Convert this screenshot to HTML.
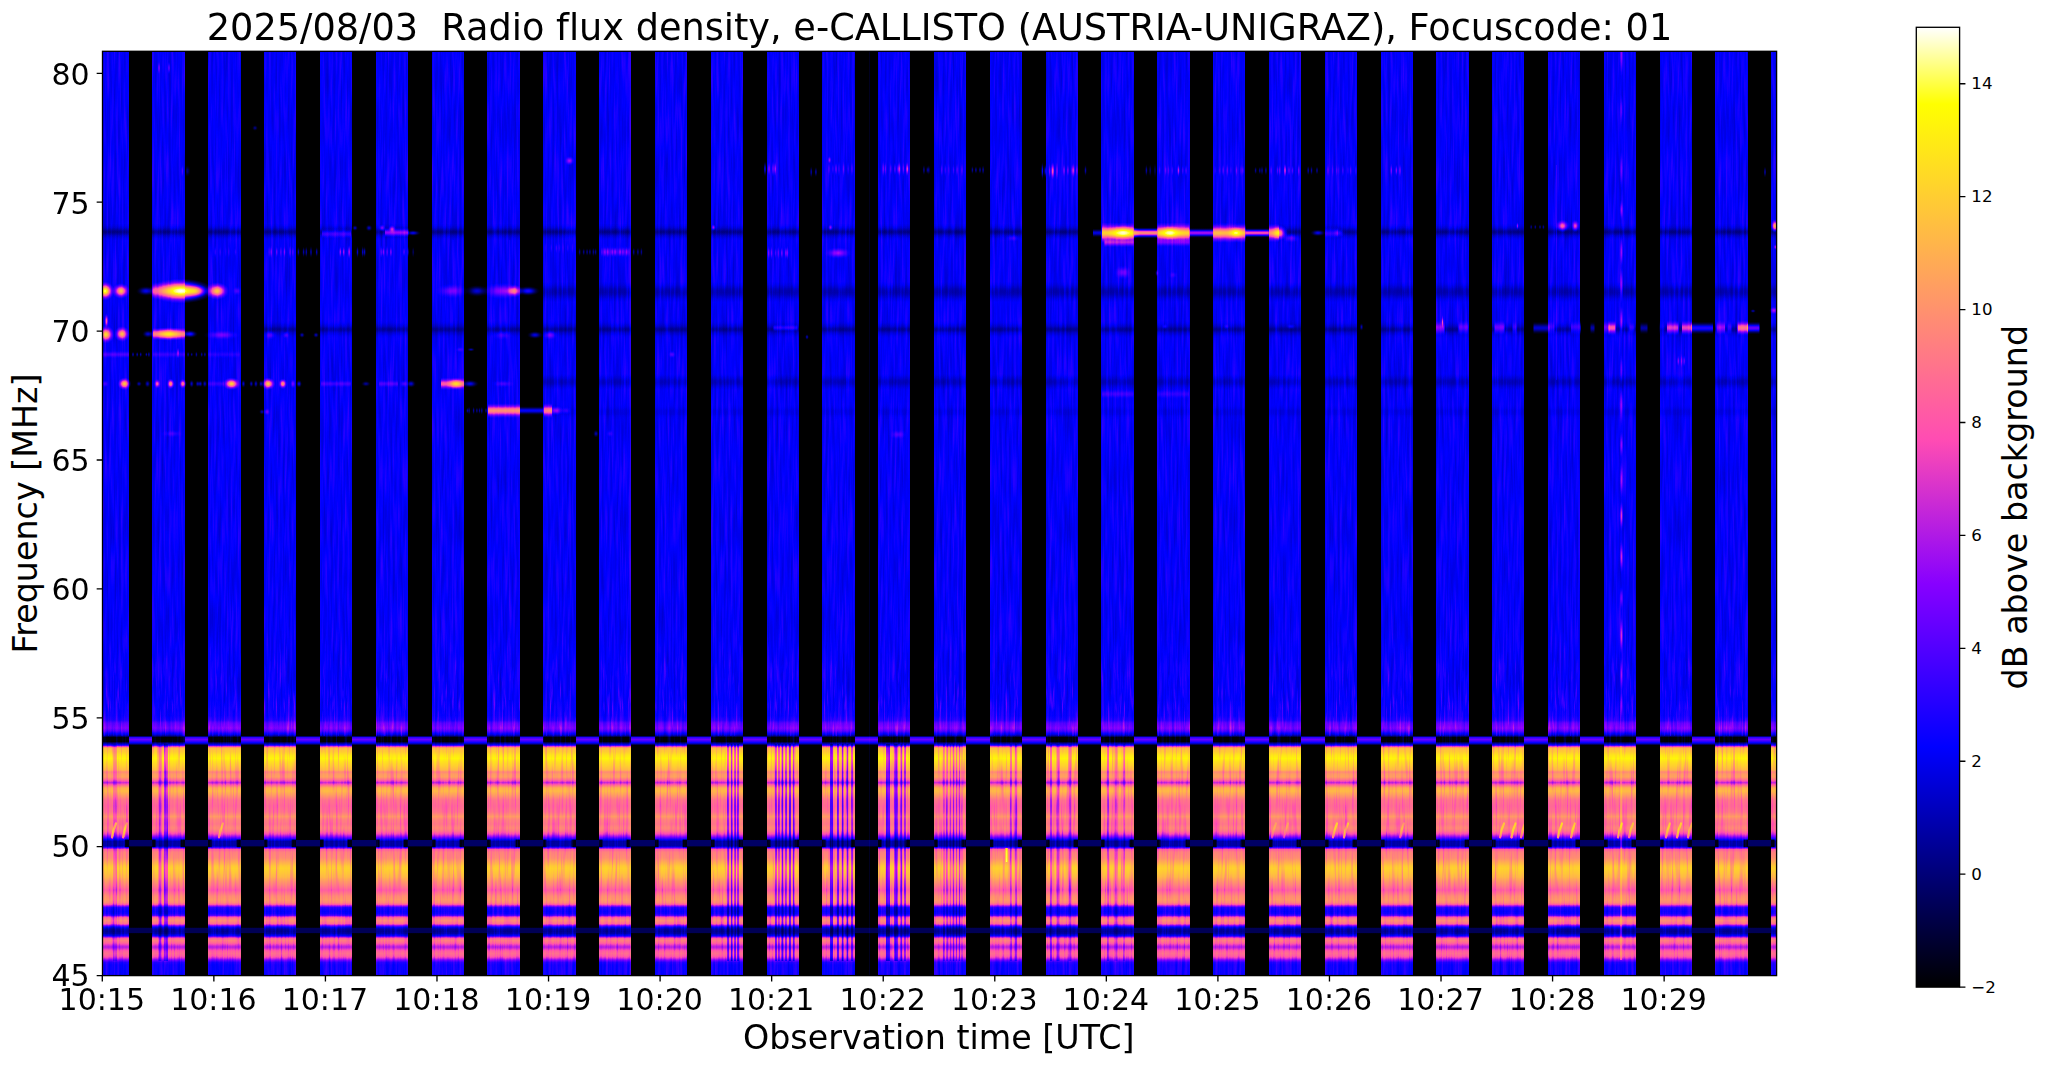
<!DOCTYPE html>
<html lang="en"><head><meta charset="utf-8"><title>e-CALLISTO AUSTRIA-UNIGRAZ 2025/08/03</title>
<style>html,body{margin:0;padding:0;background:#fff}body{width:2047px;height:1067px;overflow:hidden}svg{display:block}text{font-family:"DejaVu Sans","Liberation Sans",sans-serif;fill:#000;font-variant-ligatures:none}</style></head><body>
<svg width="2047" height="1067" viewBox="0 0 2047 1067">
<defs>
<filter id="cmap" filterUnits="userSpaceOnUse" x="100.5" y="49.3" width="1678.1" height="928.3" color-interpolation-filters="sRGB">
<feComponentTransfer>
<feFuncR type="table" tableValues="0 0 0 0 0 0 0 0 0 0 0 0 0 0 0 0 0 0 0 0 0 0 0 0 0 0 0.03125 0.0625 0.09375 0.125 0.1562 0.1875 0.2188 0.25 0.2812 0.3125 0.3438 0.375 0.4062 0.4375 0.4688 0.5 0.5312 0.5625 0.5938 0.625 0.6562 0.6875 0.7188 0.75 0.7812 0.8125 0.8438 0.875 0.9062 0.9375 0.9688 1 1 1 1 1 1 1 1 1 1 1 1 1 1 1 1 1 1 1 1 1 1 1 1 1 1 1 1 1 1 1 1 1 1 1 1 1 1 1 1 1 1 1 1"/>
<feFuncG type="table" tableValues="0 0 0 0 0 0 0 0 0 0 0 0 0 0 0 0 0 0 0 0 0 0 0 0 0 0 0 0 0 0 0 0 0 0 0 0 0 0 0 0 0 0 0 0.02 0.04 0.06 0.08 0.1 0.12 0.14 0.16 0.18 0.2 0.22 0.24 0.26 0.28 0.3 0.32 0.34 0.36 0.38 0.4 0.42 0.44 0.46 0.48 0.5 0.52 0.54 0.56 0.58 0.6 0.62 0.64 0.66 0.68 0.7 0.72 0.74 0.76 0.78 0.8 0.82 0.84 0.86 0.88 0.9 0.92 0.94 0.96 0.98 1 1 1 1 1 1 1 1 1"/>
<feFuncB type="table" tableValues="0 0.04 0.08 0.12 0.16 0.2 0.24 0.28 0.32 0.36 0.4 0.44 0.48 0.52 0.56 0.6 0.64 0.68 0.72 0.76 0.8 0.84 0.88 0.92 0.96 1 1 1 1 1 1 1 1 1 1 1 1 1 1 1 1 1 1 0.98 0.96 0.94 0.92 0.9 0.88 0.86 0.84 0.82 0.8 0.78 0.76 0.74 0.72 0.7 0.68 0.66 0.64 0.62 0.6 0.58 0.56 0.54 0.52 0.5 0.48 0.46 0.44 0.42 0.4 0.38 0.36 0.34 0.32 0.3 0.28 0.26 0.24 0.22 0.2 0.18 0.16 0.14 0.12 0.1 0.08 0.06 0.04 0.02 0 0.125 0.25 0.375 0.5 0.625 0.75 0.875 1"/>
</feComponentTransfer></filter>
<linearGradient id="fg" x1="0" y1="0" x2="0" y2="1"><stop offset="0" stop-color="#000"/><stop offset="0.75" stop-color="#fff"/><stop offset="1" stop-color="#fff"/></linearGradient>
<mask id="fade" maskUnits="userSpaceOnUse" x="102.5" y="620" width="1674.1" height="116"><rect x="102.5" y="620" width="1674.1" height="116" fill="url(#fg)"/></mask>
<filter id="nw" x="0" y="0" width="1" height="1" color-interpolation-filters="sRGB"><feTurbulence type="fractalNoise" baseFrequency="0.42 0.02" numOctaves="2" seed="7"/><feColorMatrix type="matrix" values="0 0 0 0 1  0 0 0 0 1  0 0 0 0 1  0 0 0 0.22 -0.11"/></filter>
<filter id="nk" x="0" y="0" width="1" height="1" color-interpolation-filters="sRGB"><feTurbulence type="fractalNoise" baseFrequency="0.42 0.02" numOctaves="2" seed="7"/><feColorMatrix type="matrix" values="0 0 0 0 0  0 0 0 0 0  0 0 0 0 0  0 0 0 -0.45 0.225"/></filter>
<filter id="nw2" x="0" y="0" width="1" height="1" color-interpolation-filters="sRGB"><feTurbulence type="fractalNoise" baseFrequency="0.5 0.035" numOctaves="2" seed="3"/><feColorMatrix type="matrix" values="0 0 0 0 1  0 0 0 0 1  0 0 0 0 1  0 0 0 0.55 -0.308"/></filter>
<linearGradient id="onp" gradientUnits="userSpaceOnUse" x1="0" y1="51.3" x2="0" y2="975.6"><stop offset="-0.00032" stop-color="#3f3f3f"/><stop offset="0.70183" stop-color="#3f3f3f"/><stop offset="0.71914" stop-color="#444444"/><stop offset="0.72347" stop-color="#4a4a4a"/><stop offset="0.72671" stop-color="#5d5d5d"/><stop offset="0.73212" stop-color="#696969"/><stop offset="0.73537" stop-color="#5a5a5a"/><stop offset="0.73753" stop-color="#454545"/><stop offset="0.73969" stop-color="#343434"/><stop offset="0.74132" stop-color="#161616"/><stop offset="0.74240" stop-color="#000000"/><stop offset="0.74673" stop-color="#000000"/><stop offset="0.74835" stop-color="#1e1e1e"/><stop offset="0.75051" stop-color="#444444"/><stop offset="0.75160" stop-color="#696969"/><stop offset="0.75268" stop-color="#acacac"/><stop offset="0.75430" stop-color="#cacaca"/><stop offset="0.75809" stop-color="#d2d2d2"/><stop offset="0.76133" stop-color="#dedede"/><stop offset="0.76512" stop-color="#e6e6e6"/><stop offset="0.76891" stop-color="#dbdbdb"/><stop offset="0.77323" stop-color="#d2d2d2"/><stop offset="0.77756" stop-color="#c6c6c6"/><stop offset="0.77973" stop-color="#aeaeae"/><stop offset="0.78189" stop-color="#b7b7b7"/><stop offset="0.78513" stop-color="#bababa"/><stop offset="0.78784" stop-color="#a5a5a5"/><stop offset="0.79130" stop-color="#7b7b7b"/><stop offset="0.79433" stop-color="#a5a5a5"/><stop offset="0.79704" stop-color="#c2c2c2"/><stop offset="0.80028" stop-color="#c8c8c8"/><stop offset="0.80461" stop-color="#bababa"/><stop offset="0.81002" stop-color="#a5a5a5"/><stop offset="0.81651" stop-color="#9f9f9f"/><stop offset="0.82300" stop-color="#a5a5a5"/><stop offset="0.82787" stop-color="#b7b7b7"/><stop offset="0.83166" stop-color="#aaaaaa"/><stop offset="0.83598" stop-color="#a5a5a5"/><stop offset="0.84031" stop-color="#aeaeae"/><stop offset="0.84356" stop-color="#a5a5a5"/><stop offset="0.84680" stop-color="#8e8e8e"/><stop offset="0.84951" stop-color="#707070"/><stop offset="0.85167" stop-color="#525252"/><stop offset="0.85351" stop-color="#393939"/><stop offset="0.85492" stop-color="#2a2a2a"/><stop offset="0.85979" stop-color="#2a2a2a"/><stop offset="0.86087" stop-color="#3f3f3f"/><stop offset="0.86227" stop-color="#707070"/><stop offset="0.86357" stop-color="#9b9b9b"/><stop offset="0.86628" stop-color="#ababab"/><stop offset="0.87277" stop-color="#b1b1b1"/><stop offset="0.87710" stop-color="#c0c0c0"/><stop offset="0.88142" stop-color="#cfcfcf"/><stop offset="0.88413" stop-color="#d3d3d3"/><stop offset="0.88792" stop-color="#cfcfcf"/><stop offset="0.89332" stop-color="#c6c6c6"/><stop offset="0.89765" stop-color="#b7b7b7"/><stop offset="0.90306" stop-color="#a8a8a8"/><stop offset="0.90739" stop-color="#999999"/><stop offset="0.91064" stop-color="#a5a5a5"/><stop offset="0.91388" stop-color="#b1b1b1"/><stop offset="0.91821" stop-color="#b7b7b7"/><stop offset="0.92145" stop-color="#aeaeae"/><stop offset="0.92308" stop-color="#969696"/><stop offset="0.92470" stop-color="#707070"/><stop offset="0.92632" stop-color="#4e4e4e"/><stop offset="0.92795" stop-color="#464646"/><stop offset="0.93065" stop-color="#424242"/><stop offset="0.93335" stop-color="#464646"/><stop offset="0.93498" stop-color="#5a5a5a"/><stop offset="0.93606" stop-color="#808080"/><stop offset="0.93747" stop-color="#a2a2a2"/><stop offset="0.94060" stop-color="#b1b1b1"/><stop offset="0.94363" stop-color="#a2a2a2"/><stop offset="0.94504" stop-color="#808080"/><stop offset="0.94634" stop-color="#5a5a5a"/><stop offset="0.94764" stop-color="#3f3f3f"/><stop offset="0.94958" stop-color="#2a2a2a"/><stop offset="0.95196" stop-color="#242424"/><stop offset="0.95445" stop-color="#2a2a2a"/><stop offset="0.95662" stop-color="#3f3f3f"/><stop offset="0.95770" stop-color="#5a5a5a"/><stop offset="0.95878" stop-color="#808080"/><stop offset="0.95997" stop-color="#9e9e9e"/><stop offset="0.96203" stop-color="#aaaaaa"/><stop offset="0.96473" stop-color="#9e9e9e"/><stop offset="0.96689" stop-color="#878787"/><stop offset="0.96906" stop-color="#787878"/><stop offset="0.97122" stop-color="#878787"/><stop offset="0.97339" stop-color="#9b9b9b"/><stop offset="0.97609" stop-color="#a2a2a2"/><stop offset="0.97879" stop-color="#9b9b9b"/><stop offset="0.98096" stop-color="#878787"/><stop offset="0.98258" stop-color="#707070"/><stop offset="0.98420" stop-color="#5a5a5a"/><stop offset="0.98583" stop-color="#4b4b4b"/><stop offset="0.98853" stop-color="#454545"/><stop offset="1.00043" stop-color="#454545"/></linearGradient>
<linearGradient id="offp" gradientUnits="userSpaceOnUse" x1="0" y1="51.3" x2="0" y2="975.6"><stop offset="-0.00032" stop-color="#000000"/><stop offset="0.74024" stop-color="#000000"/><stop offset="0.74132" stop-color="#1e1e1e"/><stop offset="0.74240" stop-color="#4e4e4e"/><stop offset="0.74456" stop-color="#636363"/><stop offset="0.74619" stop-color="#545454"/><stop offset="0.74835" stop-color="#3c3c3c"/><stop offset="0.74976" stop-color="#1e1e1e"/><stop offset="0.75051" stop-color="#000000"/><stop offset="0.85275" stop-color="#000000"/><stop offset="0.85362" stop-color="#191919"/><stop offset="0.85979" stop-color="#191919"/><stop offset="0.86065" stop-color="#000000"/><stop offset="0.94774" stop-color="#000000"/><stop offset="0.94872" stop-color="#151515"/><stop offset="0.95369" stop-color="#151515"/><stop offset="0.95456" stop-color="#000000"/><stop offset="1.00043" stop-color="#000000"/></linearGradient>
<radialGradient id="bw"><stop offset="0.00" stop-color="#fff" stop-opacity="1.000"/><stop offset="0.10" stop-color="#fff" stop-opacity="0.970"/><stop offset="0.20" stop-color="#fff" stop-opacity="0.885"/><stop offset="0.30" stop-color="#fff" stop-opacity="0.758"/><stop offset="0.40" stop-color="#fff" stop-opacity="0.609"/><stop offset="0.50" stop-color="#fff" stop-opacity="0.456"/><stop offset="0.60" stop-color="#fff" stop-opacity="0.316"/><stop offset="0.70" stop-color="#fff" stop-opacity="0.199"/><stop offset="0.80" stop-color="#fff" stop-opacity="0.108"/><stop offset="0.90" stop-color="#fff" stop-opacity="0.043"/><stop offset="1.00" stop-color="#fff" stop-opacity="0.000"/></radialGradient>
<radialGradient id="bk"><stop offset="0.00" stop-color="#000" stop-opacity="1.000"/><stop offset="0.10" stop-color="#000" stop-opacity="0.970"/><stop offset="0.20" stop-color="#000" stop-opacity="0.885"/><stop offset="0.30" stop-color="#000" stop-opacity="0.758"/><stop offset="0.40" stop-color="#000" stop-opacity="0.609"/><stop offset="0.50" stop-color="#000" stop-opacity="0.456"/><stop offset="0.60" stop-color="#000" stop-opacity="0.316"/><stop offset="0.70" stop-color="#000" stop-opacity="0.199"/><stop offset="0.80" stop-color="#000" stop-opacity="0.108"/><stop offset="0.90" stop-color="#000" stop-opacity="0.043"/><stop offset="1.00" stop-color="#000" stop-opacity="0.000"/></radialGradient>
<linearGradient id="lw" x1="0" y1="0" x2="0" y2="1"><stop offset="0.00" stop-color="#fff" stop-opacity="0.000"/><stop offset="0.05" stop-color="#fff" stop-opacity="0.043"/><stop offset="0.10" stop-color="#fff" stop-opacity="0.108"/><stop offset="0.15" stop-color="#fff" stop-opacity="0.199"/><stop offset="0.20" stop-color="#fff" stop-opacity="0.316"/><stop offset="0.25" stop-color="#fff" stop-opacity="0.456"/><stop offset="0.30" stop-color="#fff" stop-opacity="0.609"/><stop offset="0.35" stop-color="#fff" stop-opacity="0.758"/><stop offset="0.40" stop-color="#fff" stop-opacity="0.885"/><stop offset="0.45" stop-color="#fff" stop-opacity="0.970"/><stop offset="0.50" stop-color="#fff" stop-opacity="1.000"/><stop offset="0.55" stop-color="#fff" stop-opacity="0.970"/><stop offset="0.60" stop-color="#fff" stop-opacity="0.885"/><stop offset="0.65" stop-color="#fff" stop-opacity="0.758"/><stop offset="0.70" stop-color="#fff" stop-opacity="0.609"/><stop offset="0.75" stop-color="#fff" stop-opacity="0.456"/><stop offset="0.80" stop-color="#fff" stop-opacity="0.316"/><stop offset="0.85" stop-color="#fff" stop-opacity="0.199"/><stop offset="0.90" stop-color="#fff" stop-opacity="0.108"/><stop offset="0.95" stop-color="#fff" stop-opacity="0.043"/><stop offset="1.00" stop-color="#fff" stop-opacity="0.000"/></linearGradient>
<linearGradient id="lk" x1="0" y1="0" x2="0" y2="1"><stop offset="0.00" stop-color="#000" stop-opacity="0.000"/><stop offset="0.05" stop-color="#000" stop-opacity="0.043"/><stop offset="0.10" stop-color="#000" stop-opacity="0.108"/><stop offset="0.15" stop-color="#000" stop-opacity="0.199"/><stop offset="0.20" stop-color="#000" stop-opacity="0.316"/><stop offset="0.25" stop-color="#000" stop-opacity="0.456"/><stop offset="0.30" stop-color="#000" stop-opacity="0.609"/><stop offset="0.35" stop-color="#000" stop-opacity="0.758"/><stop offset="0.40" stop-color="#000" stop-opacity="0.885"/><stop offset="0.45" stop-color="#000" stop-opacity="0.970"/><stop offset="0.50" stop-color="#000" stop-opacity="1.000"/><stop offset="0.55" stop-color="#000" stop-opacity="0.970"/><stop offset="0.60" stop-color="#000" stop-opacity="0.885"/><stop offset="0.65" stop-color="#000" stop-opacity="0.758"/><stop offset="0.70" stop-color="#000" stop-opacity="0.609"/><stop offset="0.75" stop-color="#000" stop-opacity="0.456"/><stop offset="0.80" stop-color="#000" stop-opacity="0.316"/><stop offset="0.85" stop-color="#000" stop-opacity="0.199"/><stop offset="0.90" stop-color="#000" stop-opacity="0.108"/><stop offset="0.95" stop-color="#000" stop-opacity="0.043"/><stop offset="1.00" stop-color="#000" stop-opacity="0.000"/></linearGradient>
<clipPath id="plot"><rect x="102.5" y="51.3" width="1674.1" height="924.3"/></clipPath>
<clipPath id="offclip"><rect x="129.00" y="51.3" width="23.5" height="924.3"/><rect x="184.82" y="51.3" width="23.5" height="924.3"/><rect x="240.64" y="51.3" width="23.5" height="924.3"/><rect x="296.46" y="51.3" width="23.5" height="924.3"/><rect x="352.28" y="51.3" width="23.5" height="924.3"/><rect x="408.10" y="51.3" width="23.5" height="924.3"/><rect x="463.92" y="51.3" width="23.5" height="924.3"/><rect x="519.74" y="51.3" width="23.5" height="924.3"/><rect x="575.56" y="51.3" width="23.5" height="924.3"/><rect x="631.38" y="51.3" width="23.5" height="924.3"/><rect x="687.20" y="51.3" width="23.5" height="924.3"/><rect x="743.02" y="51.3" width="23.5" height="924.3"/><rect x="798.84" y="51.3" width="23.5" height="924.3"/><rect x="854.66" y="51.3" width="23.5" height="924.3"/><rect x="910.48" y="51.3" width="23.5" height="924.3"/><rect x="966.30" y="51.3" width="23.5" height="924.3"/><rect x="1022.12" y="51.3" width="23.5" height="924.3"/><rect x="1077.94" y="51.3" width="23.5" height="924.3"/><rect x="1133.76" y="51.3" width="23.5" height="924.3"/><rect x="1189.58" y="51.3" width="23.5" height="924.3"/><rect x="1245.40" y="51.3" width="23.5" height="924.3"/><rect x="1301.22" y="51.3" width="23.5" height="924.3"/><rect x="1357.04" y="51.3" width="23.5" height="924.3"/><rect x="1412.86" y="51.3" width="23.5" height="924.3"/><rect x="1468.68" y="51.3" width="23.5" height="924.3"/><rect x="1524.50" y="51.3" width="23.5" height="924.3"/><rect x="1580.32" y="51.3" width="23.5" height="924.3"/><rect x="1636.14" y="51.3" width="23.5" height="924.3"/><rect x="1691.96" y="51.3" width="23.5" height="924.3"/><rect x="1747.78" y="51.3" width="23.5" height="924.3"/></clipPath>
<linearGradient id="cbar" x1="0" y1="0" x2="0" y2="1"><stop offset="0.00" stop-color="rgb(255,255,255)"/><stop offset="0.08" stop-color="rgb(255,255,0)"/><stop offset="0.43" stop-color="rgb(255,76,179)"/><stop offset="0.58" stop-color="rgb(135,0,255)"/><stop offset="0.75" stop-color="rgb(0,0,255)"/><stop offset="1.00" stop-color="rgb(0,0,0)"/></linearGradient>
</defs>
<rect width="2047" height="1067" fill="#fff"/>
<g clip-path="url(#plot)"><g filter="url(#cmap)">
<rect x="100.5" y="49.3" width="1678.1" height="928.3" fill="url(#onp)"/>
<g><rect x="530.0" y="281.0" width="1250.0" height="22.0" fill="url(#lk)" opacity="0.300"/><rect x="530.0" y="373.0" width="1250.0" height="18.0" fill="url(#lk)" opacity="0.240"/><rect x="530.0" y="404.0" width="1250.0" height="16.0" fill="url(#lk)" opacity="0.100"/><rect x="102.0" y="223.0" width="1678.0" height="18.0" fill="url(#lk)" opacity="0.300"/><rect x="102.0" y="228.0" width="1678.0" height="8.0" fill="url(#lk)" opacity="0.220"/><rect x="260.0" y="320.5" width="1520.0" height="18.0" fill="url(#lk)" opacity="0.280"/><rect x="260.0" y="325.5" width="1520.0" height="8.0" fill="url(#lk)" opacity="0.150"/><rect x="727.2" y="744.0" width="1.6" height="217.0" fill="#000" opacity="0.400"/><rect x="730.9" y="744.0" width="1.6" height="217.0" fill="#000" opacity="0.420"/><rect x="734.2" y="744.0" width="1.6" height="217.0" fill="#000" opacity="0.400"/><rect x="737.2" y="744.0" width="1.6" height="217.0" fill="#000" opacity="0.400"/><rect x="775.2" y="744.0" width="1.6" height="217.0" fill="#000" opacity="0.420"/><rect x="778.2" y="744.0" width="1.5" height="217.0" fill="#000" opacity="0.350"/><rect x="781.5" y="744.0" width="1.8" height="217.0" fill="#000" opacity="0.450"/><rect x="785.2" y="744.0" width="1.6" height="217.0" fill="#000" opacity="0.400"/><rect x="789.1" y="744.0" width="1.8" height="217.0" fill="#000" opacity="0.450"/><rect x="792.9" y="744.0" width="1.6" height="217.0" fill="#000" opacity="0.400"/><rect x="830.0" y="744.0" width="3.0" height="217.0" fill="#000" opacity="0.450"/><rect x="837.1" y="744.0" width="1.8" height="217.0" fill="#000" opacity="0.420"/><rect x="841.7" y="744.0" width="1.8" height="217.0" fill="#000" opacity="0.450"/><rect x="846.5" y="744.0" width="1.8" height="217.0" fill="#000" opacity="0.420"/><rect x="851.2" y="744.0" width="1.6" height="217.0" fill="#000" opacity="0.400"/><rect x="886.0" y="744.0" width="4.0" height="217.0" fill="#000" opacity="0.450"/><rect x="894.3" y="744.0" width="3.4" height="217.0" fill="#000" opacity="0.450"/><rect x="900.4" y="744.0" width="1.8" height="217.0" fill="#000" opacity="0.400"/><rect x="904.2" y="744.0" width="1.6" height="217.0" fill="#000" opacity="0.360"/><rect x="943.3" y="744.0" width="1.4" height="217.0" fill="#000" opacity="0.250"/><rect x="946.3" y="744.0" width="1.4" height="217.0" fill="#000" opacity="0.300"/><rect x="949.8" y="744.0" width="1.4" height="217.0" fill="#000" opacity="0.250"/><rect x="952.7" y="744.0" width="1.6" height="217.0" fill="#000" opacity="0.320"/><rect x="955.8" y="744.0" width="1.4" height="217.0" fill="#000" opacity="0.280"/><rect x="958.8" y="744.0" width="1.4" height="217.0" fill="#000" opacity="0.300"/><rect x="961.4" y="744.0" width="1.2" height="217.0" fill="#000" opacity="0.220"/><rect x="1010.0" y="744.0" width="2.0" height="217.0" fill="#000" opacity="0.200"/><rect x="1014.8" y="744.0" width="2.4" height="217.0" fill="#000" opacity="0.250"/><rect x="1050.0" y="744.0" width="2.0" height="217.0" fill="#000" opacity="0.280"/><rect x="1056.5" y="744.0" width="3.0" height="217.0" fill="#000" opacity="0.250"/><rect x="1068.5" y="744.0" width="3.0" height="217.0" fill="#000" opacity="0.220"/><rect x="1107.0" y="744.0" width="2.0" height="217.0" fill="#000" opacity="0.220"/><rect x="1114.5" y="744.0" width="3.0" height="217.0" fill="#000" opacity="0.180"/><rect x="1123.0" y="744.0" width="2.0" height="217.0" fill="#000" opacity="0.150"/><rect x="158.5" y="744.0" width="3.0" height="217.0" fill="#000" opacity="0.250"/><rect x="164.0" y="744.0" width="4.0" height="217.0" fill="#000" opacity="0.300"/><rect x="113.0" y="744.0" width="4.0" height="217.0" fill="#000" opacity="0.150"/><rect x="124.6" y="839.6" width="4.4" height="7.6" fill="#000" opacity="0.9"/><rect x="152" y="839.6" width="3.6" height="7.6" fill="#000" opacity="0.9"/><rect x="180.6" y="839.6" width="4.4" height="7.6" fill="#000" opacity="0.9"/><rect x="208" y="839.6" width="3.6" height="7.6" fill="#000" opacity="0.9"/><rect x="236.6" y="839.6" width="4.4" height="7.6" fill="#000" opacity="0.9"/><rect x="264" y="839.6" width="3.6" height="7.6" fill="#000" opacity="0.9"/><rect x="291.6" y="839.6" width="4.4" height="7.6" fill="#000" opacity="0.9"/><rect x="320" y="839.6" width="3.6" height="7.6" fill="#000" opacity="0.9"/><rect x="347.6" y="839.6" width="4.4" height="7.6" fill="#000" opacity="0.9"/><rect x="376" y="839.6" width="3.6" height="7.6" fill="#000" opacity="0.9"/><rect x="403.6" y="839.6" width="4.4" height="7.6" fill="#000" opacity="0.9"/><rect x="432" y="839.6" width="3.6" height="7.6" fill="#000" opacity="0.9"/><rect x="459.6" y="839.6" width="4.4" height="7.6" fill="#000" opacity="0.9"/><rect x="487" y="839.6" width="3.6" height="7.6" fill="#000" opacity="0.9"/><rect x="515.6" y="839.6" width="4.4" height="7.6" fill="#000" opacity="0.9"/><rect x="543" y="839.6" width="3.6" height="7.6" fill="#000" opacity="0.9"/><rect x="571.6" y="839.6" width="4.4" height="7.6" fill="#000" opacity="0.9"/><rect x="599" y="839.6" width="3.6" height="7.6" fill="#000" opacity="0.9"/><rect x="626.6" y="839.6" width="4.4" height="7.6" fill="#000" opacity="0.9"/><rect x="655" y="839.6" width="3.6" height="7.6" fill="#000" opacity="0.9"/><rect x="682.6" y="839.6" width="4.4" height="7.6" fill="#000" opacity="0.9"/><rect x="711" y="839.6" width="3.6" height="7.6" fill="#000" opacity="0.9"/><rect x="738.6" y="839.6" width="4.4" height="7.6" fill="#000" opacity="0.9"/><rect x="767" y="839.6" width="3.6" height="7.6" fill="#000" opacity="0.9"/><rect x="794.6" y="839.6" width="4.4" height="7.6" fill="#000" opacity="0.9"/><rect x="822" y="839.6" width="3.6" height="7.6" fill="#000" opacity="0.9"/><rect x="850.6" y="839.6" width="4.4" height="7.6" fill="#000" opacity="0.9"/><rect x="878" y="839.6" width="3.6" height="7.6" fill="#000" opacity="0.9"/><rect x="905.6" y="839.6" width="4.4" height="7.6" fill="#000" opacity="0.9"/><rect x="934" y="839.6" width="3.6" height="7.6" fill="#000" opacity="0.9"/><rect x="961.6" y="839.6" width="4.4" height="7.6" fill="#000" opacity="0.9"/><rect x="990" y="839.6" width="3.6" height="7.6" fill="#000" opacity="0.9"/><rect x="1017.6" y="839.6" width="4.4" height="7.6" fill="#000" opacity="0.9"/><rect x="1046" y="839.6" width="3.6" height="7.6" fill="#000" opacity="0.9"/><rect x="1073.6" y="839.6" width="4.4" height="7.6" fill="#000" opacity="0.9"/><rect x="1101" y="839.6" width="3.6" height="7.6" fill="#000" opacity="0.9"/><rect x="1129.6" y="839.6" width="4.4" height="7.6" fill="#000" opacity="0.9"/><rect x="1157" y="839.6" width="3.6" height="7.6" fill="#000" opacity="0.9"/><rect x="1185.6" y="839.6" width="4.4" height="7.6" fill="#000" opacity="0.9"/><rect x="1213" y="839.6" width="3.6" height="7.6" fill="#000" opacity="0.9"/><rect x="1240.6" y="839.6" width="4.4" height="7.6" fill="#000" opacity="0.9"/><rect x="1269" y="839.6" width="3.6" height="7.6" fill="#000" opacity="0.9"/><rect x="1296.6" y="839.6" width="4.4" height="7.6" fill="#000" opacity="0.9"/><rect x="1325" y="839.6" width="3.6" height="7.6" fill="#000" opacity="0.9"/><rect x="1352.6" y="839.6" width="4.4" height="7.6" fill="#000" opacity="0.9"/><rect x="1381" y="839.6" width="3.6" height="7.6" fill="#000" opacity="0.9"/><rect x="1408.6" y="839.6" width="4.4" height="7.6" fill="#000" opacity="0.9"/><rect x="1436" y="839.6" width="3.6" height="7.6" fill="#000" opacity="0.9"/><rect x="1464.6" y="839.6" width="4.4" height="7.6" fill="#000" opacity="0.9"/><rect x="1492" y="839.6" width="3.6" height="7.6" fill="#000" opacity="0.9"/><rect x="1519.6" y="839.6" width="4.4" height="7.6" fill="#000" opacity="0.9"/><rect x="1548" y="839.6" width="3.6" height="7.6" fill="#000" opacity="0.9"/><rect x="1575.6" y="839.6" width="4.4" height="7.6" fill="#000" opacity="0.9"/><rect x="1604" y="839.6" width="3.6" height="7.6" fill="#000" opacity="0.9"/><rect x="1631.6" y="839.6" width="4.4" height="7.6" fill="#000" opacity="0.9"/><rect x="1660" y="839.6" width="3.6" height="7.6" fill="#000" opacity="0.9"/><rect x="1687.6" y="839.6" width="4.4" height="7.6" fill="#000" opacity="0.9"/><rect x="1715" y="839.6" width="3.6" height="7.6" fill="#000" opacity="0.9"/><rect x="1743.6" y="839.6" width="4.4" height="7.6" fill="#000" opacity="0.9"/><rect x="1771" y="839.6" width="3.6" height="7.6" fill="#000" opacity="0.9"/><path d="M112.0 837.5 q1.2 -8 4 -14" stroke="#fff" stroke-width="2.2" stroke-linecap="round" opacity="0.50" fill="none"/><path d="M123.0 837.5 q1.2 -8 4 -14" stroke="#fff" stroke-width="2.2" stroke-linecap="round" opacity="0.50" fill="none"/><path d="M219.0 837.5 q1.2 -8 4 -14" stroke="#fff" stroke-width="2.2" stroke-linecap="round" opacity="0.40" fill="none"/><path d="M1272.0 837.5 q1.2 -8 4 -14" stroke="#fff" stroke-width="2.2" stroke-linecap="round" opacity="0.22" fill="none"/><path d="M1284.0 837.5 q1.2 -8 4 -14" stroke="#fff" stroke-width="2.2" stroke-linecap="round" opacity="0.22" fill="none"/><path d="M1333.0 837.5 q1.2 -8 4 -14" stroke="#fff" stroke-width="2.2" stroke-linecap="round" opacity="0.50" fill="none"/><path d="M1344.0 837.5 q1.2 -8 4 -14" stroke="#fff" stroke-width="2.2" stroke-linecap="round" opacity="0.50" fill="none"/><path d="M1400.0 837.5 q1.2 -8 4 -14" stroke="#fff" stroke-width="2.2" stroke-linecap="round" opacity="0.30" fill="none"/><path d="M1500.0 837.5 q1.2 -8 4 -14" stroke="#fff" stroke-width="2.2" stroke-linecap="round" opacity="0.45" fill="none"/><path d="M1511.5 837.5 q1.2 -8 4 -14" stroke="#fff" stroke-width="2.2" stroke-linecap="round" opacity="0.50" fill="none"/><path d="M1521.0 837.5 q1.2 -8 4 -14" stroke="#fff" stroke-width="2.2" stroke-linecap="round" opacity="0.50" fill="none"/><path d="M1558.0 837.5 q1.2 -8 4 -14" stroke="#fff" stroke-width="2.2" stroke-linecap="round" opacity="0.55" fill="none"/><path d="M1571.0 837.5 q1.2 -8 4 -14" stroke="#fff" stroke-width="2.2" stroke-linecap="round" opacity="0.45" fill="none"/><path d="M1618.0 837.5 q1.2 -8 4 -14" stroke="#fff" stroke-width="2.2" stroke-linecap="round" opacity="0.50" fill="none"/><path d="M1629.0 837.5 q1.2 -8 4 -14" stroke="#fff" stroke-width="2.2" stroke-linecap="round" opacity="0.40" fill="none"/><path d="M1666.0 837.5 q1.2 -8 4 -14" stroke="#fff" stroke-width="2.2" stroke-linecap="round" opacity="0.45" fill="none"/><path d="M1677.0 837.5 q1.2 -8 4 -14" stroke="#fff" stroke-width="2.2" stroke-linecap="round" opacity="0.50" fill="none"/><path d="M1688.0 837.5 q1.2 -8 4 -14" stroke="#fff" stroke-width="2.2" stroke-linecap="round" opacity="0.45" fill="none"/></g>
<rect x="102.5" y="620" width="1674.1" height="116" fill="#fff" filter="url(#nw2)" mask="url(#fade)"/>
<rect x="102.5" y="51.3" width="1674.1" height="924.3" fill="#fff" filter="url(#nw)"/>
<rect x="102.5" y="51.3" width="1674.1" height="924.3" fill="#000" filter="url(#nk)"/>
<g>
<rect x="129" y="49.3" width="23" height="928.3" fill="url(#offp)"/>
<rect x="185" y="49.3" width="23" height="928.3" fill="url(#offp)"/>
<rect x="241" y="49.3" width="23" height="928.3" fill="url(#offp)"/>
<rect x="296" y="49.3" width="24" height="928.3" fill="url(#offp)"/>
<rect x="352" y="49.3" width="24" height="928.3" fill="url(#offp)"/>
<rect x="408" y="49.3" width="24" height="928.3" fill="url(#offp)"/>
<rect x="464" y="49.3" width="23" height="928.3" fill="url(#offp)"/>
<rect x="520" y="49.3" width="23" height="928.3" fill="url(#offp)"/>
<rect x="576" y="49.3" width="23" height="928.3" fill="url(#offp)"/>
<rect x="631" y="49.3" width="24" height="928.3" fill="url(#offp)"/>
<rect x="687" y="49.3" width="24" height="928.3" fill="url(#offp)"/>
<rect x="743" y="49.3" width="24" height="928.3" fill="url(#offp)"/>
<rect x="799" y="49.3" width="23" height="928.3" fill="url(#offp)"/>
<rect x="855" y="49.3" width="23" height="928.3" fill="url(#offp)"/>
<rect x="910" y="49.3" width="24" height="928.3" fill="url(#offp)"/>
<rect x="966" y="49.3" width="24" height="928.3" fill="url(#offp)"/>
<rect x="1022" y="49.3" width="24" height="928.3" fill="url(#offp)"/>
<rect x="1078" y="49.3" width="23" height="928.3" fill="url(#offp)"/>
<rect x="1134" y="49.3" width="23" height="928.3" fill="url(#offp)"/>
<rect x="1190" y="49.3" width="23" height="928.3" fill="url(#offp)"/>
<rect x="1245" y="49.3" width="24" height="928.3" fill="url(#offp)"/>
<rect x="1301" y="49.3" width="24" height="928.3" fill="url(#offp)"/>
<rect x="1357" y="49.3" width="24" height="928.3" fill="url(#offp)"/>
<rect x="1413" y="49.3" width="23" height="928.3" fill="url(#offp)"/>
<rect x="1469" y="49.3" width="23" height="928.3" fill="url(#offp)"/>
<rect x="1524" y="49.3" width="24" height="928.3" fill="url(#offp)"/>
<rect x="1580" y="49.3" width="24" height="928.3" fill="url(#offp)"/>
<rect x="1636" y="49.3" width="24" height="928.3" fill="url(#offp)"/>
<rect x="1692" y="49.3" width="23" height="928.3" fill="url(#offp)"/>
<rect x="1748" y="49.3" width="23" height="928.3" fill="url(#offp)"/>
</g>
<g><ellipse cx="105.0" cy="291.0" rx="9.5" ry="9.5" fill="url(#bw)" opacity="0.945"/><ellipse cx="121.0" cy="291.0" rx="9.0" ry="8.0" fill="url(#bw)" opacity="0.727"/><rect x="152.5" y="282.0" width="32.5" height="18.0" fill="url(#lw)" opacity="0.414"/><ellipse cx="181.0" cy="291.0" rx="33.0" ry="12.5" fill="url(#bw)" opacity="1.000"/><ellipse cx="195.0" cy="291.0" rx="14.0" ry="7.0" fill="url(#bw)" opacity="0.647"/><ellipse cx="146.0" cy="291.0" rx="10.0" ry="5.0" fill="url(#bw)" opacity="0.235"/><ellipse cx="217.0" cy="291.0" rx="12.0" ry="9.0" fill="url(#bw)" opacity="0.750"/><ellipse cx="237.0" cy="291.0" rx="5.0" ry="5.0" fill="url(#bw)" opacity="0.141"/><ellipse cx="452.0" cy="291.0" rx="17.0" ry="7.5" fill="url(#bw)" opacity="0.203"/><ellipse cx="477.0" cy="291.0" rx="12.0" ry="6.0" fill="url(#bw)" opacity="0.212"/><ellipse cx="503.0" cy="291.0" rx="22.0" ry="8.5" fill="url(#bw)" opacity="0.266"/><ellipse cx="514.0" cy="291.0" rx="9.0" ry="6.5" fill="url(#bw)" opacity="0.516"/><ellipse cx="528.0" cy="291.0" rx="12.0" ry="5.0" fill="url(#bw)" opacity="0.294"/><ellipse cx="106.0" cy="334.5" rx="8.5" ry="9.0" fill="url(#bw)" opacity="0.797"/><ellipse cx="106.5" cy="321.0" rx="2.2" ry="8.0" fill="url(#bw)" opacity="0.500"/><ellipse cx="122.0" cy="334.0" rx="8.0" ry="8.0" fill="url(#bw)" opacity="0.711"/><rect x="153.0" y="327.5" width="32.0" height="13.0" fill="url(#lw)" opacity="0.492"/><ellipse cx="169.0" cy="334.0" rx="20.0" ry="7.0" fill="url(#bw)" opacity="0.672"/><ellipse cx="190.0" cy="334.0" rx="8.0" ry="4.0" fill="url(#bw)" opacity="0.294"/><ellipse cx="148.0" cy="334.0" rx="6.0" ry="4.0" fill="url(#bw)" opacity="0.206"/><ellipse cx="222.0" cy="335.0" rx="19.0" ry="5.0" fill="url(#bw)" opacity="0.187"/><ellipse cx="270.0" cy="335.0" rx="7.0" ry="5.0" fill="url(#bw)" opacity="0.156"/><ellipse cx="286.0" cy="335.0" rx="4.0" ry="4.0" fill="url(#bw)" opacity="0.141"/><ellipse cx="302.0" cy="335.0" rx="3.0" ry="3.0" fill="url(#bw)" opacity="0.176"/><ellipse cx="316.0" cy="335.0" rx="3.0" ry="3.0" fill="url(#bw)" opacity="0.176"/><ellipse cx="502.0" cy="335.0" rx="12.0" ry="5.0" fill="url(#bw)" opacity="0.109"/><ellipse cx="535.0" cy="335.0" rx="8.0" ry="4.0" fill="url(#bw)" opacity="0.224"/><ellipse cx="550.0" cy="335.0" rx="8.0" ry="5.0" fill="url(#bw)" opacity="0.203"/><rect x="102.5" y="350.5" width="26.5" height="8.0" fill="url(#lw)" opacity="0.125"/><ellipse cx="133.0" cy="354.5" rx="1.5" ry="3.0" fill="url(#bw)" opacity="0.181"/><ellipse cx="137.2" cy="354.5" rx="1.5" ry="2.9" fill="url(#bw)" opacity="0.175"/><ellipse cx="140.7" cy="354.5" rx="1.5" ry="2.9" fill="url(#bw)" opacity="0.176"/><ellipse cx="146.4" cy="354.5" rx="1.5" ry="2.5" fill="url(#bw)" opacity="0.170"/><ellipse cx="148.9" cy="354.5" rx="1.5" ry="3.3" fill="url(#bw)" opacity="0.177"/><rect x="153.0" y="350.5" width="32.0" height="8.0" fill="url(#lw)" opacity="0.086"/><ellipse cx="178.0" cy="353.0" rx="1.5" ry="6.0" fill="url(#bw)" opacity="0.297"/><ellipse cx="188.1" cy="354.5" rx="1.5" ry="3.1" fill="url(#bw)" opacity="0.153"/><ellipse cx="191.7" cy="354.5" rx="1.5" ry="2.4" fill="url(#bw)" opacity="0.150"/><ellipse cx="196.4" cy="354.5" rx="1.5" ry="3.3" fill="url(#bw)" opacity="0.153"/><ellipse cx="201.7" cy="354.5" rx="1.5" ry="3.0" fill="url(#bw)" opacity="0.153"/><ellipse cx="204.9" cy="354.5" rx="1.5" ry="2.9" fill="url(#bw)" opacity="0.148"/><rect x="208.0" y="350.5" width="32.0" height="8.0" fill="url(#lw)" opacity="0.062"/><ellipse cx="460.0" cy="349.6" rx="5.0" ry="3.0" fill="url(#bw)" opacity="0.109"/><ellipse cx="471.0" cy="349.6" rx="4.0" ry="2.0" fill="url(#bw)" opacity="0.165"/><ellipse cx="672.0" cy="354.5" rx="4.0" ry="4.0" fill="url(#bw)" opacity="0.156"/><ellipse cx="105.0" cy="383.8" rx="4.0" ry="4.0" fill="url(#bw)" opacity="0.141"/><ellipse cx="124.4" cy="383.8" rx="7.0" ry="6.5" fill="url(#bw)" opacity="0.750"/><ellipse cx="139.0" cy="383.8" rx="3.0" ry="3.0" fill="url(#bw)" opacity="0.165"/><ellipse cx="157.3" cy="383.8" rx="3.5" ry="5.0" fill="url(#bw)" opacity="0.469"/><ellipse cx="170.7" cy="383.8" rx="4.0" ry="5.5" fill="url(#bw)" opacity="0.625"/><ellipse cx="182.9" cy="383.8" rx="4.0" ry="5.0" fill="url(#bw)" opacity="0.547"/><ellipse cx="147.5" cy="383.8" rx="3.0" ry="4.0" fill="url(#bw)" opacity="0.188"/><ellipse cx="191.6" cy="383.8" rx="2.5" ry="4.2" fill="url(#bw)" opacity="0.195"/><ellipse cx="197.7" cy="383.8" rx="2.5" ry="3.5" fill="url(#bw)" opacity="0.184"/><ellipse cx="200.3" cy="383.8" rx="2.5" ry="3.5" fill="url(#bw)" opacity="0.196"/><ellipse cx="204.8" cy="383.8" rx="2.5" ry="3.9" fill="url(#bw)" opacity="0.184"/><rect x="208.0" y="379.8" width="16.0" height="8.0" fill="url(#lw)" opacity="0.094"/><ellipse cx="231.6" cy="383.8" rx="9.0" ry="6.5" fill="url(#bw)" opacity="0.781"/><ellipse cx="243.4" cy="383.8" rx="2.2" ry="4.2" fill="url(#bw)" opacity="0.194"/><ellipse cx="251.3" cy="383.8" rx="2.2" ry="3.6" fill="url(#bw)" opacity="0.185"/><ellipse cx="255.9" cy="383.8" rx="2.2" ry="4.1" fill="url(#bw)" opacity="0.186"/><ellipse cx="261.0" cy="383.8" rx="2.2" ry="3.8" fill="url(#bw)" opacity="0.197"/><ellipse cx="268.2" cy="383.8" rx="7.0" ry="6.5" fill="url(#bw)" opacity="0.750"/><ellipse cx="282.8" cy="383.8" rx="4.5" ry="5.5" fill="url(#bw)" opacity="0.625"/><ellipse cx="293.0" cy="383.8" rx="3.0" ry="5.0" fill="url(#bw)" opacity="0.219"/><ellipse cx="299.0" cy="383.8" rx="3.0" ry="4.0" fill="url(#bw)" opacity="0.235"/><rect x="321.0" y="379.8" width="30.0" height="8.0" fill="url(#lw)" opacity="0.117"/><ellipse cx="366.0" cy="383.8" rx="5.0" ry="3.0" fill="url(#bw)" opacity="0.147"/><rect x="379.0" y="379.8" width="19.0" height="8.0" fill="url(#lw)" opacity="0.125"/><ellipse cx="404.0" cy="383.8" rx="5.0" ry="4.0" fill="url(#bw)" opacity="0.156"/><ellipse cx="411.0" cy="383.8" rx="5.0" ry="4.0" fill="url(#bw)" opacity="0.206"/><rect x="441.0" y="377.3" width="23.0" height="13.0" fill="url(#lw)" opacity="0.469"/><ellipse cx="456.0" cy="383.8" rx="10.0" ry="6.0" fill="url(#bw)" opacity="0.625"/><ellipse cx="470.0" cy="383.8" rx="9.0" ry="4.0" fill="url(#bw)" opacity="0.235"/><ellipse cx="503.0" cy="383.8" rx="12.0" ry="4.0" fill="url(#bw)" opacity="0.125"/><ellipse cx="267.0" cy="411.8" rx="3.5" ry="4.0" fill="url(#bw)" opacity="0.187"/><ellipse cx="262.0" cy="411.8" rx="3.0" ry="3.0" fill="url(#bw)" opacity="0.165"/><ellipse cx="467.4" cy="410.6" rx="1.4" ry="3.2" fill="url(#bw)" opacity="0.154"/><ellipse cx="469.1" cy="410.6" rx="1.4" ry="4.6" fill="url(#bw)" opacity="0.146"/><ellipse cx="473.6" cy="410.6" rx="1.4" ry="4.2" fill="url(#bw)" opacity="0.155"/><ellipse cx="476.9" cy="410.6" rx="1.4" ry="3.5" fill="url(#bw)" opacity="0.149"/><ellipse cx="479.5" cy="410.6" rx="1.4" ry="3.6" fill="url(#bw)" opacity="0.149"/><ellipse cx="481.8" cy="410.6" rx="1.4" ry="4.4" fill="url(#bw)" opacity="0.155"/><ellipse cx="486.0" cy="410.6" rx="1.4" ry="3.5" fill="url(#bw)" opacity="0.156"/><rect x="488.0" y="403.1" width="32.0" height="15.0" fill="url(#lw)" opacity="0.602"/><rect x="520.0" y="406.1" width="23.5" height="9.0" fill="url(#lw)" opacity="0.247"/><rect x="543.8" y="403.1" width="8.2" height="15.0" fill="url(#lw)" opacity="0.578"/><ellipse cx="556.0" cy="410.6" rx="8.0" ry="5.0" fill="url(#bw)" opacity="0.297"/><ellipse cx="566.0" cy="410.6" rx="6.0" ry="4.0" fill="url(#bw)" opacity="0.109"/><ellipse cx="172.0" cy="433.7" rx="12.0" ry="4.0" fill="url(#bw)" opacity="0.102"/><ellipse cx="596.0" cy="433.7" rx="3.0" ry="4.0" fill="url(#bw)" opacity="0.165"/><ellipse cx="610.0" cy="433.7" rx="4.0" ry="4.0" fill="url(#bw)" opacity="0.094"/><ellipse cx="898.0" cy="434.5" rx="9.0" ry="5.0" fill="url(#bw)" opacity="0.133"/><ellipse cx="215.3" cy="252.0" rx="1.5" ry="6.6" fill="url(#bw)" opacity="0.101"/><ellipse cx="220.2" cy="252.0" rx="1.5" ry="5.8" fill="url(#bw)" opacity="0.076"/><ellipse cx="225.9" cy="252.0" rx="1.5" ry="6.5" fill="url(#bw)" opacity="0.048"/><ellipse cx="228.8" cy="252.0" rx="1.5" ry="6.6" fill="url(#bw)" opacity="0.075"/><ellipse cx="235.4" cy="252.0" rx="1.5" ry="4.8" fill="url(#bw)" opacity="0.076"/><ellipse cx="269.2" cy="252.0" rx="1.5" ry="7.4" fill="url(#bw)" opacity="0.122"/><ellipse cx="271.2" cy="252.0" rx="1.5" ry="7.1" fill="url(#bw)" opacity="0.195"/><ellipse cx="276.8" cy="252.0" rx="1.5" ry="5.9" fill="url(#bw)" opacity="0.181"/><ellipse cx="280.8" cy="252.0" rx="1.5" ry="6.5" fill="url(#bw)" opacity="0.133"/><ellipse cx="284.5" cy="252.0" rx="1.5" ry="6.1" fill="url(#bw)" opacity="0.194"/><ellipse cx="290.0" cy="252.0" rx="1.5" ry="7.4" fill="url(#bw)" opacity="0.174"/><ellipse cx="292.8" cy="252.0" rx="1.5" ry="5.8" fill="url(#bw)" opacity="0.119"/><ellipse cx="298.4" cy="252.0" rx="1.5" ry="5.4" fill="url(#bw)" opacity="0.171"/><ellipse cx="303.6" cy="252.0" rx="1.5" ry="5.6" fill="url(#bw)" opacity="0.166"/><ellipse cx="306.3" cy="252.0" rx="1.5" ry="6.0" fill="url(#bw)" opacity="0.169"/><ellipse cx="311.0" cy="252.0" rx="1.5" ry="6.3" fill="url(#bw)" opacity="0.173"/><ellipse cx="316.7" cy="252.0" rx="1.5" ry="5.3" fill="url(#bw)" opacity="0.176"/><ellipse cx="340.3" cy="252.0" rx="1.5" ry="5.9" fill="url(#bw)" opacity="0.273"/><ellipse cx="343.7" cy="252.0" rx="1.5" ry="5.8" fill="url(#bw)" opacity="0.274"/><ellipse cx="349.1" cy="252.0" rx="1.5" ry="7.6" fill="url(#bw)" opacity="0.327"/><ellipse cx="357.5" cy="252.0" rx="1.5" ry="6.4" fill="url(#bw)" opacity="0.191"/><ellipse cx="362.7" cy="252.0" rx="1.5" ry="6.4" fill="url(#bw)" opacity="0.194"/><ellipse cx="364.6" cy="252.0" rx="1.5" ry="5.8" fill="url(#bw)" opacity="0.194"/><ellipse cx="381.2" cy="252.0" rx="1.5" ry="7.1" fill="url(#bw)" opacity="0.183"/><ellipse cx="383.4" cy="252.0" rx="1.5" ry="5.2" fill="url(#bw)" opacity="0.203"/><ellipse cx="387.1" cy="252.0" rx="1.5" ry="6.9" fill="url(#bw)" opacity="0.170"/><ellipse cx="390.9" cy="252.0" rx="1.5" ry="5.8" fill="url(#bw)" opacity="0.218"/><ellipse cx="404.0" cy="252.0" rx="1.5" ry="5.1" fill="url(#bw)" opacity="0.155"/><ellipse cx="408.2" cy="252.0" rx="1.5" ry="5.9" fill="url(#bw)" opacity="0.127"/><ellipse cx="413.2" cy="252.0" rx="1.5" ry="5.9" fill="url(#bw)" opacity="0.094"/><ellipse cx="545.5" cy="248.0" rx="1.5" ry="8.0" fill="url(#bw)" opacity="0.057"/><ellipse cx="551.2" cy="248.0" rx="1.5" ry="5.8" fill="url(#bw)" opacity="0.067"/><ellipse cx="556.4" cy="248.0" rx="1.5" ry="6.1" fill="url(#bw)" opacity="0.100"/><ellipse cx="559.4" cy="248.0" rx="1.5" ry="6.7" fill="url(#bw)" opacity="0.087"/><ellipse cx="563.1" cy="248.0" rx="1.5" ry="7.6" fill="url(#bw)" opacity="0.054"/><ellipse cx="567.7" cy="248.0" rx="1.5" ry="5.6" fill="url(#bw)" opacity="0.069"/><ellipse cx="572.5" cy="248.0" rx="1.5" ry="7.8" fill="url(#bw)" opacity="0.078"/><ellipse cx="579.6" cy="252.0" rx="1.5" ry="4.7" fill="url(#bw)" opacity="0.137"/><ellipse cx="583.7" cy="252.0" rx="1.5" ry="4.0" fill="url(#bw)" opacity="0.140"/><ellipse cx="587.1" cy="252.0" rx="1.5" ry="4.1" fill="url(#bw)" opacity="0.140"/><ellipse cx="589.9" cy="252.0" rx="1.5" ry="4.1" fill="url(#bw)" opacity="0.139"/><ellipse cx="593.4" cy="252.0" rx="1.5" ry="4.8" fill="url(#bw)" opacity="0.142"/><ellipse cx="595.6" cy="252.0" rx="1.5" ry="4.4" fill="url(#bw)" opacity="0.137"/><rect x="601.0" y="246.0" width="29.0" height="12.0" fill="url(#lw)" opacity="0.117"/><ellipse cx="604.9" cy="252.0" rx="1.5" ry="5.7" fill="url(#bw)" opacity="0.155"/><ellipse cx="607.7" cy="252.0" rx="1.5" ry="6.5" fill="url(#bw)" opacity="0.180"/><ellipse cx="612.3" cy="252.0" rx="1.5" ry="5.1" fill="url(#bw)" opacity="0.149"/><ellipse cx="615.1" cy="252.0" rx="1.5" ry="5.3" fill="url(#bw)" opacity="0.193"/><ellipse cx="620.1" cy="252.0" rx="1.5" ry="4.9" fill="url(#bw)" opacity="0.184"/><ellipse cx="622.9" cy="252.0" rx="1.5" ry="5.6" fill="url(#bw)" opacity="0.125"/><ellipse cx="626.6" cy="252.0" rx="1.5" ry="5.8" fill="url(#bw)" opacity="0.166"/><ellipse cx="633.7" cy="252.0" rx="1.5" ry="4.8" fill="url(#bw)" opacity="0.145"/><ellipse cx="637.9" cy="252.0" rx="1.5" ry="4.7" fill="url(#bw)" opacity="0.147"/><ellipse cx="641.4" cy="252.0" rx="1.5" ry="5.1" fill="url(#bw)" opacity="0.141"/><ellipse cx="768.7" cy="253.0" rx="1.5" ry="7.6" fill="url(#bw)" opacity="0.228"/><ellipse cx="771.5" cy="253.0" rx="1.5" ry="7.5" fill="url(#bw)" opacity="0.199"/><ellipse cx="775.5" cy="253.0" rx="1.5" ry="5.9" fill="url(#bw)" opacity="0.125"/><ellipse cx="778.3" cy="253.0" rx="1.5" ry="7.4" fill="url(#bw)" opacity="0.150"/><ellipse cx="781.8" cy="253.0" rx="1.5" ry="6.4" fill="url(#bw)" opacity="0.215"/><ellipse cx="785.9" cy="253.0" rx="1.5" ry="6.6" fill="url(#bw)" opacity="0.232"/><ellipse cx="787.5" cy="253.0" rx="1.5" ry="7.6" fill="url(#bw)" opacity="0.218"/><ellipse cx="838.0" cy="253.0" rx="14.0" ry="6.0" fill="url(#bw)" opacity="0.273"/><ellipse cx="1013.0" cy="238.0" rx="8.0" ry="4.0" fill="url(#bw)" opacity="0.109"/><ellipse cx="1123.0" cy="272.5" rx="9.0" ry="7.5" fill="url(#bw)" opacity="0.211"/><ellipse cx="1173.0" cy="275.0" rx="5.0" ry="4.0" fill="url(#bw)" opacity="0.086"/><ellipse cx="1157.0" cy="273.0" rx="2.0" ry="4.0" fill="url(#bw)" opacity="0.176"/><rect x="322.0" y="228.0" width="29.0" height="11.0" fill="url(#lw)" opacity="0.195"/><ellipse cx="355.0" cy="228.0" rx="3.0" ry="3.0" fill="url(#bw)" opacity="0.176"/><ellipse cx="369.0" cy="228.0" rx="3.5" ry="3.5" fill="url(#bw)" opacity="0.188"/><ellipse cx="382.0" cy="228.0" rx="3.5" ry="4.0" fill="url(#bw)" opacity="0.258"/><ellipse cx="392.0" cy="229.0" rx="4.0" ry="4.0" fill="url(#bw)" opacity="0.328"/><rect x="385.0" y="227.5" width="23.5" height="10.0" fill="url(#lw)" opacity="0.344"/><ellipse cx="413.0" cy="233.0" rx="8.0" ry="3.0" fill="url(#bw)" opacity="0.235"/><ellipse cx="713.5" cy="227.5" rx="2.5" ry="3.5" fill="url(#bw)" opacity="0.297"/><ellipse cx="830.5" cy="227.5" rx="2.5" ry="3.5" fill="url(#bw)" opacity="0.266"/><rect x="1093.0" y="228.4" width="8.4" height="9.0" fill="url(#lw)" opacity="0.224"/><rect x="1101.9" y="222.4" width="31.8" height="21.0" fill="url(#lw)" opacity="0.797"/><ellipse cx="1123.0" cy="232.9" rx="18.0" ry="8.0" fill="url(#bw)" opacity="0.922"/><rect x="1104.4" y="237.5" width="29.3" height="10.0" fill="url(#lw)" opacity="0.297"/><rect x="1133.8" y="227.3" width="23.5" height="11.2" fill="url(#lw)" opacity="0.694"/><rect x="1157.3" y="222.4" width="32.3" height="21.0" fill="url(#lw)" opacity="0.812"/><ellipse cx="1170.0" cy="232.9" rx="14.0" ry="7.5" fill="url(#bw)" opacity="0.891"/><rect x="1157.3" y="238.0" width="32.3" height="9.0" fill="url(#lw)" opacity="0.187"/><rect x="1189.6" y="227.9" width="23.5" height="10.0" fill="url(#lw)" opacity="0.459"/><rect x="1213.1" y="222.9" width="32.3" height="20.0" fill="url(#lw)" opacity="0.758"/><ellipse cx="1236.0" cy="232.9" rx="9.0" ry="6.5" fill="url(#bw)" opacity="0.812"/><rect x="1245.4" y="228.1" width="23.5" height="9.6" fill="url(#lw)" opacity="0.576"/><rect x="1269.0" y="223.4" width="10.0" height="19.0" fill="url(#lw)" opacity="0.672"/><ellipse cx="1279.0" cy="232.9" rx="9.0" ry="8.0" fill="url(#bw)" opacity="0.672"/><ellipse cx="1291.0" cy="238.0" rx="9.0" ry="5.0" fill="url(#bw)" opacity="0.172"/><ellipse cx="1318.0" cy="232.9" rx="8.0" ry="3.5" fill="url(#bw)" opacity="0.235"/><rect x="1325.0" y="226.9" width="13.0" height="12.0" fill="url(#lw)" opacity="0.195"/><ellipse cx="1339.0" cy="232.9" rx="6.0" ry="5.0" fill="url(#bw)" opacity="0.195"/><ellipse cx="1517.5" cy="226.0" rx="1.5" ry="4.0" fill="url(#bw)" opacity="0.297"/><ellipse cx="1562.5" cy="226.0" rx="7.5" ry="6.5" fill="url(#bw)" opacity="0.469"/><ellipse cx="1575.3" cy="226.0" rx="4.2" ry="6.5" fill="url(#bw)" opacity="0.422"/><ellipse cx="1531.2" cy="227.0" rx="1.5" ry="3.1" fill="url(#bw)" opacity="0.139"/><ellipse cx="1535.3" cy="227.0" rx="1.5" ry="2.9" fill="url(#bw)" opacity="0.140"/><ellipse cx="1540.0" cy="227.0" rx="1.5" ry="2.9" fill="url(#bw)" opacity="0.138"/><ellipse cx="1543.4" cy="227.0" rx="1.5" ry="3.1" fill="url(#bw)" opacity="0.139"/><ellipse cx="1775.0" cy="226.0" rx="4.0" ry="7.0" fill="url(#bw)" opacity="0.719"/><ellipse cx="1775.5" cy="247.0" rx="2.0" ry="3.0" fill="url(#bw)" opacity="0.297"/><ellipse cx="1774.0" cy="310.5" rx="5.0" ry="4.0" fill="url(#bw)" opacity="0.281"/><ellipse cx="1753.0" cy="311.0" rx="3.0" ry="2.0" fill="url(#bw)" opacity="0.165"/><ellipse cx="765.0" cy="169.0" rx="1.5" ry="8.3" fill="url(#bw)" opacity="0.247"/><ellipse cx="769.0" cy="169.0" rx="1.5" ry="7.1" fill="url(#bw)" opacity="0.231"/><ellipse cx="773.0" cy="169.0" rx="1.5" ry="8.8" fill="url(#bw)" opacity="0.223"/><ellipse cx="775.2" cy="169.0" rx="1.5" ry="7.6" fill="url(#bw)" opacity="0.274"/><ellipse cx="811.2" cy="172.0" rx="1.5" ry="6.2" fill="url(#bw)" opacity="0.164"/><ellipse cx="815.9" cy="172.0" rx="1.5" ry="5.3" fill="url(#bw)" opacity="0.166"/><ellipse cx="829.0" cy="169.0" rx="1.5" ry="6.8" fill="url(#bw)" opacity="0.106"/><ellipse cx="832.9" cy="169.0" rx="1.5" ry="6.9" fill="url(#bw)" opacity="0.116"/><ellipse cx="836.0" cy="169.0" rx="1.5" ry="7.4" fill="url(#bw)" opacity="0.195"/><ellipse cx="838.9" cy="169.0" rx="1.5" ry="9.1" fill="url(#bw)" opacity="0.136"/><ellipse cx="843.6" cy="169.0" rx="1.5" ry="9.0" fill="url(#bw)" opacity="0.174"/><ellipse cx="848.2" cy="169.0" rx="1.5" ry="8.4" fill="url(#bw)" opacity="0.108"/><ellipse cx="852.0" cy="169.0" rx="1.5" ry="8.1" fill="url(#bw)" opacity="0.135"/><ellipse cx="829.5" cy="160.0" rx="2.0" ry="4.0" fill="url(#bw)" opacity="0.258"/><ellipse cx="883.2" cy="169.0" rx="1.5" ry="9.1" fill="url(#bw)" opacity="0.212"/><ellipse cx="885.4" cy="169.0" rx="1.5" ry="8.1" fill="url(#bw)" opacity="0.161"/><ellipse cx="890.8" cy="169.0" rx="1.5" ry="6.8" fill="url(#bw)" opacity="0.136"/><ellipse cx="894.9" cy="169.0" rx="1.5" ry="7.0" fill="url(#bw)" opacity="0.165"/><ellipse cx="898.1" cy="169.0" rx="1.5" ry="6.6" fill="url(#bw)" opacity="0.192"/><ellipse cx="903.4" cy="169.0" rx="1.5" ry="7.8" fill="url(#bw)" opacity="0.195"/><ellipse cx="907.5" cy="169.0" rx="1.5" ry="6.6" fill="url(#bw)" opacity="0.200"/><ellipse cx="899.5" cy="169.0" rx="1.6" ry="8.0" fill="url(#bw)" opacity="0.312"/><ellipse cx="907.0" cy="169.0" rx="1.6" ry="8.0" fill="url(#bw)" opacity="0.297"/><ellipse cx="923.9" cy="170.0" rx="1.5" ry="5.5" fill="url(#bw)" opacity="0.143"/><ellipse cx="927.4" cy="170.0" rx="1.5" ry="4.3" fill="url(#bw)" opacity="0.147"/><ellipse cx="928.8" cy="170.0" rx="1.5" ry="5.3" fill="url(#bw)" opacity="0.143"/><ellipse cx="941.7" cy="170.0" rx="1.5" ry="7.9" fill="url(#bw)" opacity="0.141"/><ellipse cx="945.3" cy="170.0" rx="1.5" ry="7.7" fill="url(#bw)" opacity="0.122"/><ellipse cx="948.9" cy="170.0" rx="1.5" ry="7.9" fill="url(#bw)" opacity="0.088"/><ellipse cx="953.5" cy="170.0" rx="1.5" ry="6.6" fill="url(#bw)" opacity="0.118"/><ellipse cx="957.1" cy="170.0" rx="1.5" ry="7.3" fill="url(#bw)" opacity="0.140"/><ellipse cx="962.0" cy="170.0" rx="1.5" ry="7.5" fill="url(#bw)" opacity="0.121"/><ellipse cx="972.4" cy="170.0" rx="1.5" ry="4.4" fill="url(#bw)" opacity="0.148"/><ellipse cx="975.9" cy="170.0" rx="1.5" ry="4.1" fill="url(#bw)" opacity="0.154"/><ellipse cx="980.0" cy="170.0" rx="1.5" ry="4.1" fill="url(#bw)" opacity="0.153"/><ellipse cx="983.1" cy="170.0" rx="1.5" ry="5.1" fill="url(#bw)" opacity="0.156"/><ellipse cx="1042.4" cy="171.0" rx="1.5" ry="9.4" fill="url(#bw)" opacity="0.253"/><ellipse cx="1045.3" cy="171.0" rx="1.5" ry="7.4" fill="url(#bw)" opacity="0.237"/><ellipse cx="1049.6" cy="171.0" rx="1.5" ry="8.4" fill="url(#bw)" opacity="0.236"/><ellipse cx="1053.2" cy="171.0" rx="1.5" ry="10.1" fill="url(#bw)" opacity="0.198"/><ellipse cx="1057.0" cy="171.0" rx="1.5" ry="10.1" fill="url(#bw)" opacity="0.208"/><ellipse cx="1052.5" cy="171.0" rx="2.0" ry="9.0" fill="url(#bw)" opacity="0.359"/><ellipse cx="1064.0" cy="170.5" rx="1.5" ry="6.8" fill="url(#bw)" opacity="0.211"/><ellipse cx="1067.9" cy="170.5" rx="1.5" ry="6.8" fill="url(#bw)" opacity="0.195"/><ellipse cx="1072.2" cy="170.5" rx="1.5" ry="7.0" fill="url(#bw)" opacity="0.187"/><ellipse cx="1076.9" cy="170.5" rx="1.5" ry="6.8" fill="url(#bw)" opacity="0.163"/><ellipse cx="1073.5" cy="170.5" rx="1.6" ry="8.0" fill="url(#bw)" opacity="0.320"/><ellipse cx="1085.5" cy="170.5" rx="1.5" ry="6.0" fill="url(#bw)" opacity="0.165"/><ellipse cx="1146.4" cy="170.5" rx="1.5" ry="6.4" fill="url(#bw)" opacity="0.157"/><ellipse cx="1150.2" cy="170.5" rx="1.5" ry="6.9" fill="url(#bw)" opacity="0.110"/><ellipse cx="1155.0" cy="170.5" rx="1.5" ry="8.0" fill="url(#bw)" opacity="0.088"/><ellipse cx="1159.6" cy="170.5" rx="1.5" ry="6.2" fill="url(#bw)" opacity="0.111"/><ellipse cx="1165.6" cy="170.5" rx="1.5" ry="6.4" fill="url(#bw)" opacity="0.135"/><ellipse cx="1168.5" cy="170.5" rx="1.5" ry="7.4" fill="url(#bw)" opacity="0.120"/><ellipse cx="1172.4" cy="170.5" rx="1.5" ry="6.7" fill="url(#bw)" opacity="0.116"/><ellipse cx="1178.5" cy="170.5" rx="1.5" ry="7.0" fill="url(#bw)" opacity="0.097"/><ellipse cx="1182.7" cy="170.5" rx="1.5" ry="6.3" fill="url(#bw)" opacity="0.126"/><ellipse cx="1186.0" cy="170.5" rx="1.5" ry="6.6" fill="url(#bw)" opacity="0.152"/><ellipse cx="1178.5" cy="170.5" rx="1.6" ry="7.0" fill="url(#bw)" opacity="0.266"/><ellipse cx="1215.2" cy="170.5" rx="1.5" ry="6.3" fill="url(#bw)" opacity="0.075"/><ellipse cx="1219.6" cy="170.5" rx="1.5" ry="6.1" fill="url(#bw)" opacity="0.095"/><ellipse cx="1223.1" cy="170.5" rx="1.5" ry="7.2" fill="url(#bw)" opacity="0.162"/><ellipse cx="1227.3" cy="170.5" rx="1.5" ry="8.0" fill="url(#bw)" opacity="0.163"/><ellipse cx="1230.9" cy="170.5" rx="1.5" ry="5.8" fill="url(#bw)" opacity="0.086"/><ellipse cx="1236.5" cy="170.5" rx="1.5" ry="7.1" fill="url(#bw)" opacity="0.156"/><ellipse cx="1241.0" cy="170.5" rx="1.5" ry="7.2" fill="url(#bw)" opacity="0.121"/><ellipse cx="1242.9" cy="170.5" rx="1.5" ry="5.7" fill="url(#bw)" opacity="0.145"/><ellipse cx="1255.6" cy="170.5" rx="1.5" ry="4.2" fill="url(#bw)" opacity="0.145"/><ellipse cx="1259.8" cy="170.5" rx="1.5" ry="4.2" fill="url(#bw)" opacity="0.142"/><ellipse cx="1262.0" cy="170.5" rx="1.5" ry="5.3" fill="url(#bw)" opacity="0.142"/><ellipse cx="1265.9" cy="170.5" rx="1.5" ry="5.2" fill="url(#bw)" opacity="0.142"/><ellipse cx="1271.1" cy="170.5" rx="1.5" ry="6.1" fill="url(#bw)" opacity="0.120"/><ellipse cx="1277.5" cy="170.5" rx="1.5" ry="6.8" fill="url(#bw)" opacity="0.162"/><ellipse cx="1279.7" cy="170.5" rx="1.5" ry="6.8" fill="url(#bw)" opacity="0.174"/><ellipse cx="1285.1" cy="170.5" rx="1.5" ry="7.9" fill="url(#bw)" opacity="0.177"/><ellipse cx="1289.0" cy="170.5" rx="1.5" ry="5.6" fill="url(#bw)" opacity="0.165"/><ellipse cx="1292.6" cy="170.5" rx="1.5" ry="5.6" fill="url(#bw)" opacity="0.163"/><ellipse cx="1298.7" cy="170.5" rx="1.5" ry="7.6" fill="url(#bw)" opacity="0.184"/><ellipse cx="1285.0" cy="170.5" rx="1.6" ry="7.0" fill="url(#bw)" opacity="0.266"/><ellipse cx="1308.2" cy="170.5" rx="1.5" ry="5.1" fill="url(#bw)" opacity="0.155"/><ellipse cx="1311.5" cy="170.5" rx="1.5" ry="5.1" fill="url(#bw)" opacity="0.155"/><ellipse cx="1317.0" cy="170.5" rx="1.5" ry="4.3" fill="url(#bw)" opacity="0.153"/><ellipse cx="1328.0" cy="170.5" rx="1.5" ry="7.0" fill="url(#bw)" opacity="0.141"/><ellipse cx="1332.7" cy="170.5" rx="1.5" ry="7.8" fill="url(#bw)" opacity="0.098"/><ellipse cx="1336.7" cy="170.5" rx="1.5" ry="6.6" fill="url(#bw)" opacity="0.093"/><ellipse cx="1338.6" cy="170.5" rx="1.5" ry="6.9" fill="url(#bw)" opacity="0.079"/><ellipse cx="1342.9" cy="170.5" rx="1.5" ry="7.1" fill="url(#bw)" opacity="0.135"/><ellipse cx="1347.9" cy="170.5" rx="1.5" ry="5.8" fill="url(#bw)" opacity="0.071"/><ellipse cx="1350.6" cy="170.5" rx="1.5" ry="7.0" fill="url(#bw)" opacity="0.140"/><ellipse cx="1355.8" cy="170.5" rx="1.5" ry="7.9" fill="url(#bw)" opacity="0.118"/><ellipse cx="1391.3" cy="170.5" rx="1.5" ry="7.4" fill="url(#bw)" opacity="0.212"/><ellipse cx="1396.4" cy="170.5" rx="1.5" ry="6.3" fill="url(#bw)" opacity="0.237"/><ellipse cx="1400.0" cy="170.5" rx="1.5" ry="7.4" fill="url(#bw)" opacity="0.213"/><ellipse cx="1765.0" cy="172.0" rx="1.5" ry="6.0" fill="url(#bw)" opacity="0.165"/><ellipse cx="569.6" cy="160.8" rx="5.0" ry="5.0" fill="url(#bw)" opacity="0.297"/><ellipse cx="159.0" cy="68.0" rx="1.3" ry="7.0" fill="url(#bw)" opacity="0.234"/><ellipse cx="169.0" cy="68.0" rx="1.3" ry="7.0" fill="url(#bw)" opacity="0.234"/><ellipse cx="182.4" cy="171.0" rx="1.5" ry="6.9" fill="url(#bw)" opacity="0.134"/><ellipse cx="187.1" cy="171.0" rx="1.5" ry="6.5" fill="url(#bw)" opacity="0.127"/><ellipse cx="188.7" cy="171.0" rx="1.5" ry="6.1" fill="url(#bw)" opacity="0.074"/><ellipse cx="255.0" cy="128.0" rx="3.0" ry="3.0" fill="url(#bw)" opacity="0.129"/><rect x="773.5" y="324.0" width="24.0" height="8.0" fill="url(#lw)" opacity="0.156"/><ellipse cx="807.0" cy="337.0" rx="2.0" ry="3.0" fill="url(#bw)" opacity="0.176"/><ellipse cx="1361.5" cy="327.0" rx="2.0" ry="4.0" fill="url(#bw)" opacity="0.176"/><ellipse cx="1165.0" cy="326.5" rx="3.0" ry="3.0" fill="url(#bw)" opacity="0.109"/><ellipse cx="1226.5" cy="326.5" rx="3.0" ry="3.0" fill="url(#bw)" opacity="0.109"/><ellipse cx="1291.0" cy="326.5" rx="5.0" ry="3.0" fill="url(#bw)" opacity="0.109"/><rect x="1102.0" y="389.0" width="31.5" height="10.0" fill="url(#lw)" opacity="0.102"/><rect x="1157.5" y="389.0" width="31.5" height="10.0" fill="url(#lw)" opacity="0.078"/><ellipse cx="1678.3" cy="361.0" rx="1.5" ry="5.8" fill="url(#bw)" opacity="0.213"/><ellipse cx="1681.6" cy="361.0" rx="1.5" ry="7.6" fill="url(#bw)" opacity="0.201"/><ellipse cx="1684.2" cy="361.0" rx="1.5" ry="6.5" fill="url(#bw)" opacity="0.203"/><rect x="1436.0" y="320.0" width="8.5" height="16.0" fill="url(#lw)" opacity="0.297"/><rect x="1458.5" y="320.0" width="10.0" height="16.0" fill="url(#lw)" opacity="0.234"/><rect x="1494.5" y="320.0" width="10.0" height="16.0" fill="url(#lw)" opacity="0.266"/><rect x="1512.5" y="320.0" width="4.0" height="16.0" fill="url(#lw)" opacity="0.156"/><rect x="1533.5" y="321.5" width="16.0" height="13.0" fill="url(#lw)" opacity="0.206"/><rect x="1548.5" y="320.0" width="6.0" height="16.0" fill="url(#lw)" opacity="0.156"/><rect x="1571.0" y="320.0" width="10.0" height="16.0" fill="url(#lw)" opacity="0.187"/><rect x="1590.5" y="321.5" width="4.0" height="13.0" fill="url(#lw)" opacity="0.165"/><rect x="1604.0" y="320.0" width="5.5" height="16.0" fill="url(#lw)" opacity="0.258"/><rect x="1608.5" y="320.0" width="7.0" height="16.0" fill="url(#lw)" opacity="0.504"/><rect x="1629.5" y="321.5" width="5.0" height="13.0" fill="url(#lw)" opacity="0.147"/><rect x="1640.5" y="321.5" width="7.0" height="13.0" fill="url(#lw)" opacity="0.159"/><rect x="1659.5" y="320.0" width="5.0" height="16.0" fill="url(#lw)" opacity="0.086"/><rect x="1667.0" y="320.0" width="11.5" height="16.0" fill="url(#lw)" opacity="0.430"/><rect x="1682.0" y="320.0" width="10.0" height="16.0" fill="url(#lw)" opacity="0.460"/><rect x="1691.0" y="321.5" width="22.0" height="13.0" fill="url(#lw)" opacity="0.294"/><rect x="1716.5" y="320.0" width="8.5" height="16.0" fill="url(#lw)" opacity="0.312"/><rect x="1727.5" y="320.0" width="4.0" height="16.0" fill="url(#lw)" opacity="0.172"/><rect x="1737.5" y="320.0" width="10.5" height="16.0" fill="url(#lw)" opacity="0.577"/><rect x="1747.0" y="321.5" width="12.5" height="13.0" fill="url(#lw)" opacity="0.382"/><rect x="1770.5" y="320.0" width="3.0" height="16.0" fill="url(#lw)" opacity="0.000"/><ellipse cx="1442.5" cy="322.0" rx="1.4" ry="7.0" fill="url(#bw)" opacity="0.391"/><rect x="629.6" y="51.0" width="1.2" height="925.0" fill="#fff" opacity="0.100"/><rect x="509.2" y="240.0" width="1.0" height="460.0" fill="#fff" opacity="0.060"/><rect x="452.5" y="240.0" width="1.0" height="480.0" fill="#fff" opacity="0.050"/><rect x="1556.0" y="165.0" width="1.0" height="215.0" fill="#fff" opacity="0.070"/><ellipse cx="1621.4" cy="55.0" rx="2.2" ry="25.2" fill="url(#bw)" opacity="0.258"/><ellipse cx="1621.4" cy="110.0" rx="2.2" ry="18.0" fill="url(#bw)" opacity="0.180"/><ellipse cx="1621.4" cy="170.0" rx="2.2" ry="21.6" fill="url(#bw)" opacity="0.211"/><ellipse cx="1621.4" cy="210.0" rx="2.2" ry="10.8" fill="url(#bw)" opacity="0.227"/><ellipse cx="1621.4" cy="252.0" rx="2.2" ry="18.0" fill="url(#bw)" opacity="0.258"/><ellipse cx="1621.4" cy="285.0" rx="2.2" ry="21.6" fill="url(#bw)" opacity="0.289"/><ellipse cx="1621.4" cy="321.0" rx="2.2" ry="18.0" fill="url(#bw)" opacity="0.273"/><ellipse cx="1621.4" cy="370.0" rx="2.2" ry="18.0" fill="url(#bw)" opacity="0.195"/><ellipse cx="1621.4" cy="405.0" rx="2.2" ry="21.6" fill="url(#bw)" opacity="0.258"/><ellipse cx="1621.4" cy="445.0" rx="2.2" ry="14.4" fill="url(#bw)" opacity="0.242"/><ellipse cx="1621.4" cy="480.0" rx="2.2" ry="19.8" fill="url(#bw)" opacity="0.273"/><ellipse cx="1621.4" cy="516.0" rx="2.2" ry="16.2" fill="url(#bw)" opacity="0.383"/><ellipse cx="1621.4" cy="557.0" rx="2.2" ry="18.0" fill="url(#bw)" opacity="0.352"/><ellipse cx="1621.4" cy="598.0" rx="2.2" ry="12.6" fill="url(#bw)" opacity="0.211"/><ellipse cx="1621.4" cy="636.0" rx="2.2" ry="21.6" fill="url(#bw)" opacity="0.352"/><ellipse cx="1621.4" cy="675.0" rx="2.2" ry="21.6" fill="url(#bw)" opacity="0.273"/><ellipse cx="1621.4" cy="705.0" rx="2.2" ry="18.0" fill="url(#bw)" opacity="0.227"/><rect x="1619.9" y="746.0" width="2.2" height="214.0" fill="#fff" opacity="0.220"/><rect x="869.0" y="51.0" width="1.0" height="925.0" fill="#fff" opacity="0.030"/><rect x="1005.6" y="848" width="2" height="14" fill="#fff" opacity="0.8"/></g>
</g></g>
<rect x="102.5" y="51.3" width="1674.1" height="924.3" fill="none" stroke="#000" stroke-width="1.33"/>
<path d="M102.30 975.6 v5.83 M213.86 975.6 v5.83 M325.42 975.6 v5.83 M436.98 975.6 v5.83 M548.54 975.6 v5.83 M660.10 975.6 v5.83 M771.66 975.6 v5.83 M883.22 975.6 v5.83 M994.78 975.6 v5.83 M1106.34 975.6 v5.83 M1217.90 975.6 v5.83 M1329.46 975.6 v5.83 M1441.02 975.6 v5.83 M1552.58 975.6 v5.83 M1664.14 975.6 v5.83 M102.5 975.60 h-5.83 M102.5 846.70 h-5.83 M102.5 717.80 h-5.83 M102.5 588.90 h-5.83 M102.5 460.00 h-5.83 M102.5 331.10 h-5.83 M102.5 202.20 h-5.83 M102.5 73.30 h-5.83" stroke="#000" stroke-width="1.33" fill="none"/>
<g font-size="30px" text-anchor="middle">
<text x="101.80" y="1010.3">10:15</text>
<text x="213.36" y="1010.3">10:16</text>
<text x="324.92" y="1010.3">10:17</text>
<text x="436.48" y="1010.3">10:18</text>
<text x="548.04" y="1010.3">10:19</text>
<text x="659.60" y="1010.3">10:20</text>
<text x="771.16" y="1010.3">10:21</text>
<text x="882.72" y="1010.3">10:22</text>
<text x="994.28" y="1010.3">10:23</text>
<text x="1105.84" y="1010.3">10:24</text>
<text x="1217.40" y="1010.3">10:25</text>
<text x="1328.96" y="1010.3">10:26</text>
<text x="1440.52" y="1010.3">10:27</text>
<text x="1552.08" y="1010.3">10:28</text>
<text x="1663.64" y="1010.3">10:29</text>
</g>
<g font-size="30px" text-anchor="end">
<text x="89.6" y="986.10">45</text>
<text x="89.6" y="857.34">50</text>
<text x="89.6" y="728.59">55</text>
<text x="89.6" y="599.83">60</text>
<text x="89.6" y="471.07">65</text>
<text x="89.6" y="342.31">70</text>
<text x="89.6" y="213.56">75</text>
<text x="89.6" y="84.80">80</text>
</g>
<text x="939.5" y="40.3" font-size="36.67px" text-anchor="middle" xml:space="preserve">2025/08/03  Radio flux density, e-CALLISTO (AUSTRIA-UNIGRAZ), Focuscode: 01</text>
<text x="938.7" y="1048.7" font-size="33.33px" text-anchor="middle">Observation time [UTC]</text>
<text transform="translate(37.2 513.5) rotate(-90)" font-size="33.33px" text-anchor="middle">Frequency [MHz]</text>
<rect x="1916.3" y="27.3" width="43.3" height="959.8" fill="url(#cbar)" stroke="#000" stroke-width="1.33"/>
<g font-size="16.67px">
<text x="1971.3" y="992.60">−2</text>
<text x="1971.3" y="879.68">0</text>
<text x="1971.3" y="766.76">2</text>
<text x="1971.3" y="653.85">4</text>
<text x="1971.3" y="540.93">6</text>
<text x="1971.3" y="428.01">8</text>
<text x="1971.3" y="315.09">10</text>
<text x="1971.3" y="202.18">12</text>
<text x="1971.3" y="89.26">14</text>
</g>
<path d="M1959.6 987.10 h5.83 M1959.6 874.18 h5.83 M1959.6 761.26 h5.83 M1959.6 648.35 h5.83 M1959.6 535.43 h5.83 M1959.6 422.51 h5.83 M1959.6 309.59 h5.83 M1959.6 196.68 h5.83 M1959.6 83.76 h5.83" stroke="#000" stroke-width="1.33" fill="none"/>
<text transform="translate(2027 507.2) rotate(-90)" font-size="33.33px" text-anchor="middle">dB above background</text>
</svg></body></html>
